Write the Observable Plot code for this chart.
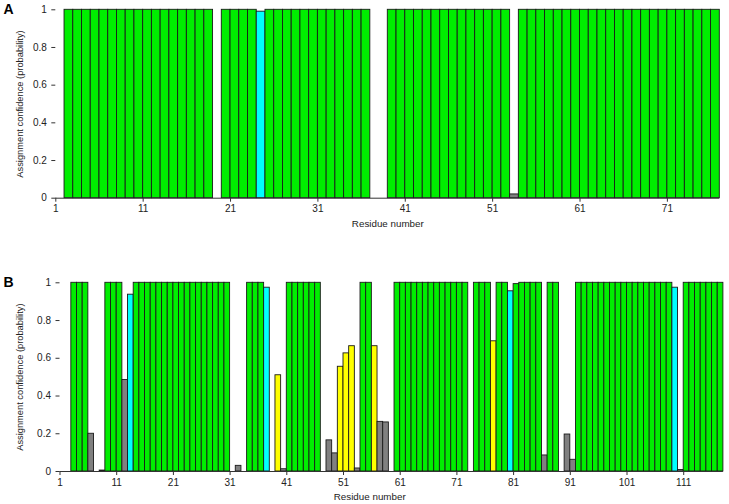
<!DOCTYPE html>
<html>
<head>
<meta charset="utf-8">
<script src="https://cdn.jsdelivr.net/npm/d3@7"></script>
<script src="https://cdn.jsdelivr.net/npm/@observablehq/plot@0.6"></script>
<style>
  html, body { margin: 0; padding: 0; background: #fff; }
  #chart { width: 729px; height: 504px; }
  #chart svg { display: block; }
</style>
</head>
<body>
<div id="chart"></div>
<script>
// ---- Panel A data ----
const residuesA = [
  2,3,4,5,6,7,8,9,10,11,12,13,14,15,16,17,18,
  20,21,22,23,24,25,26,27,28,29,30,31,32,33,34,35,36,
  39,40,41,42,43,44,45,46,47,48,49,50,51,52,53,
  54,55,56,57,58,59,60,61,62,63,64,65,66,67,68,69,70,71,72,73,74,75,76
];
const valuesA = [
  1,1,1,1,1,1,1,1,1,1,1,1,1,1,1,1,1,
  1,1,1,1,0.99,1,1,1,1,1,1,1,1,1,1,1,1,
  1,1,1,1,1,1,1,1,1,1,1,1,1,1,0.02,
  1,1,1,1,1,1,1,1,1,1,1,1,1,1,1,1,1,1,1,1,1,1,1
];
const classesA = [
  "G","G","G","G","G","G","G","G","G","G","G","G","G","G","G","G","G",
  "G","G","G","G","C","G","G","G","G","G","G","G","G","G","G","G","G",
  "G","G","G","G","G","G","G","G","G","G","G","G","G","G","K",
  "G","G","G","G","G","G","G","G","G","G","G","G","G","G","G","G","G","G","G","G","G","G","G"
];

// ---- Panel B data ----
const residuesB = [
  3,4,5,6,8,9,10,11,12,13,
  14,15,16,17,18,19,20,21,22,23,24,25,26,27,28,29,30,
  32,34,35,36,37,39,40,
  41,42,43,44,45,46,48,49,50,51,52,53,54,55,56,57,58,
  60,61,62,63,64,65,66,67,68,69,70,71,72,
  74,75,76,77,78,79,80,81,82,83,84,85,86,87,88,90,91,
  92,93,94,95,96,97,98,99,100,101,102,103,104,105,106,107,108,109,110,
  111,112,113,114,115,116,117
];
const valuesB = [
  1,1,1,0.2,0.005,1,1,1,0.485,0.937,
  1,1,1,1,1,1,1,1,1,1,1,1,1,1,1,1,1,
  0.03,1,1,1,0.974,0.51,0.012,
  1,1,1,1,1,1,0.165,0.096,0.555,0.626,0.664,0.016,1,1,0.664,0.263,0.26,
  1,1,1,1,1,1,1,1,1,1,1,1,1,
  1,1,1,0.69,1,1,0.955,0.993,1,1,1,1,0.085,1,1,0.196,0.062,
  1,1,1,1,1,1,1,1,1,1,1,1,1,1,1,1,1,0.974,0.008,
  1,1,1,1,1,1,1
];
const classesB = [
  "G","G","G","K","K","G","G","G","K","C",
  "G","G","G","G","G","G","G","G","G","G","G","G","G","G","G","G","G",
  "K","G","G","G","C","Y","K",
  "G","G","G","G","G","G","K","K","Y","Y","Y","K","G","G","Y","K","K",
  "G","G","G","G","G","G","G","G","G","G","G","G","G",
  "G","G","G","Y","G","G","C","G","G","G","G","G","K","G","G","K","K",
  "G","G","G","G","G","G","G","G","G","G","G","G","G","G","G","G","G","C","K",
  "G","G","G","G","G","G","G"
];

const yTicks = [0, 0.2, 0.4, 0.6, 0.8, 1];
const xTicksA = [1, 11, 21, 31, 41, 51, 61, 71];
const xTicksB = [1, 11, 21, 31, 41, 51, 61, 71, 81, 91, 101, 111];
const yLabel = "Assignment confidence (probability)";
const xLabel = "Residue number";

const FONT = "'Liberation Sans', Arial, Helvetica, sans-serif";
const classDomain = ["G", "C", "Y", "K"];
const classColors = ["#00ee00", "#00ffff", "#ffff00", "#808080"];

function panel({residues, values, classes, xmax, xTicks, letter, ml, mr, mt, mb, xLabelDx, xLabelDy}) {
  const data = residues.map((r, i) => ({r, v: values[i], c: classes[i]}));
  const W = 729, H = 252;
  return Plot.plot({
    width: W, height: H,
    marginLeft: ml, marginRight: mr, marginTop: mt, marginBottom: mb,
    style: {fontFamily: FONT, fontSize: "10px", background: "#fff", color: "#222"},
    x: {domain: [1, xmax]},
    y: {domain: [0, 1]},
    color: {domain: classDomain, range: classColors},
    marks: [
      Plot.rectY(data, {x1: "r", x2: d => d.r + 1, y: "v", fill: "c", stroke: "#1a1a1a", strokeWidth: 0.9}),
      Plot.ruleY([0], {stroke: "#333", strokeWidth: 1}),
      Plot.axisX({ticks: xTicks, tickSize: 4, tickPadding: 3, tickFormat: d => String(d), label: null, stroke: "#333", fontSize: 10}),
      Plot.axisY({ticks: yTicks, tickSize: 4, tickPadding: 5, tickFormat: d => String(d), label: null, stroke: "#333", fontSize: 10}),
      Plot.text([yLabel], {frameAnchor: "left", dx: 20 - ml, rotate: -90, textAnchor: "middle", lineAnchor: "middle", fontSize: 9.3, fill: "#222"}),
      Plot.text([xLabel], {frameAnchor: "bottom", dx: xLabelDx, dy: xLabelDy, textAnchor: "middle", lineAnchor: "middle", fontSize: 9.8, fill: "#222"}),
      Plot.text([letter], {frameAnchor: "top-left", dx: 3 - ml, dy: 0, textAnchor: "start", lineAnchor: "middle", fontSize: 14, fontWeight: "bold", fill: "#000"})
    ]
  });
}

const chart = document.getElementById("chart");
chart.appendChild(panel({
  residues: residuesA, values: valuesA, classes: classesA,
  xmax: 77, xTicks: xTicksA, letter: "A",
  ml: 55.3, mr: 9.7, mt: 9.3, mb: 54.3, xLabelDx: 0, xLabelDy: 25.5
}));
chart.appendChild(panel({
  residues: residuesB, values: valuesB, classes: classesB,
  xmax: 118, xTicks: xTicksB, letter: "B",
  ml: 59.5, mr: 6.1, mt: 30.3, mb: 33, xLabelDx: -22, xLabelDy: 25.7
}));
</script>
</body>
</html>
